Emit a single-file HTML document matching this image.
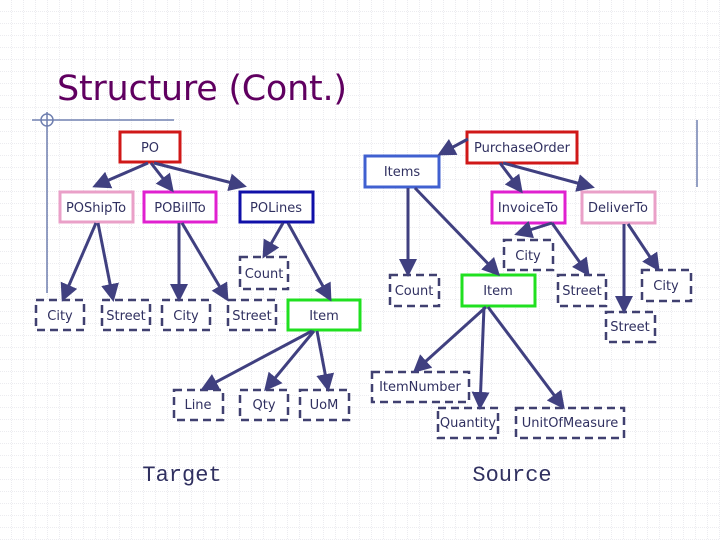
<!DOCTYPE html>
<html><head><meta charset="utf-8"><style>
body{margin:0;background:#fff}
svg{display:block}
text{font-family:"DejaVu Sans","Liberation Sans",sans-serif;font-size:13px;fill:#303060}
</style></head><body>
<svg width="720" height="540" viewBox="0 0 720 540" xmlns="http://www.w3.org/2000/svg">
<defs>
<pattern id="g" width="12" height="12" patternUnits="userSpaceOnUse">
<path d="M12 0V12M0 12H12" stroke="#d8d8e0" stroke-width="1" stroke-dasharray="1,1" fill="none"/>
</pattern>
<marker id="a" markerWidth="6" markerHeight="6" refX="5" refY="3" orient="auto" markerUnits="strokeWidth">
<path d="M0,0L6,3L0,6z" fill="#404080"/>
</marker>
</defs>
<rect width="720" height="540" fill="url(#g)"/>
<text x="57" y="100" textLength="290" style="font-size:35px;fill:#600060;font-family:'DejaVu Sans',sans-serif">Structure (Cont.)</text>
<g stroke="#7080b0" stroke-width="1.5" fill="none">
<path d="M32 120H174M47 112V293M697 120V187"/>
<circle cx="47" cy="120" r="6"/>
</g>
<g stroke-width="3" fill="#fff">
<rect x="120" y="132" width="60" height="30" stroke="#d01818"/>
<rect x="60" y="192" width="73" height="30" stroke="#eaa0c8"/>
<rect x="144" y="192" width="72" height="30" stroke="#e020d0"/>
<rect x="240" y="192" width="73" height="30" stroke="#1010a8"/>
<rect x="288" y="300" width="72" height="30" stroke="#20e020"/>
<rect x="467" y="132" width="110" height="31" stroke="#d01818"/>
<rect x="365" y="156" width="74" height="31" stroke="#4060d0"/>
<rect x="492" y="192" width="73" height="31" stroke="#e020d0"/>
<rect x="582" y="192" width="73" height="31" stroke="#eaa0c8"/>
<rect x="462" y="275" width="73" height="31" stroke="#20e020"/>
</g>
<g stroke="#404070" stroke-width="2.5" fill="#fff" stroke-dasharray="8,5">
<rect x="240" y="257" width="48" height="32"/>
<rect x="36" y="300" width="48" height="30"/>
<rect x="102" y="300" width="48" height="30"/>
<rect x="162" y="300" width="48" height="30"/>
<rect x="228" y="300" width="48" height="30"/>
<rect x="504" y="240" width="49" height="30"/>
<rect x="390" y="275" width="49" height="31"/>
<rect x="558" y="275" width="48" height="31"/>
<rect x="642" y="270" width="49" height="31"/>
<rect x="606" y="312" width="49" height="30"/>
<rect x="174" y="390" width="49" height="30"/>
<rect x="240" y="390" width="48" height="30"/>
<rect x="300" y="390" width="49" height="30"/>
<rect x="372" y="372" width="97" height="30"/>
<rect x="438" y="408" width="60" height="30"/>
<rect x="516" y="408" width="108" height="30"/>
</g>
<g stroke="#404080" stroke-width="3" fill="none" marker-end="url(#a)">
<path d="M148 163L95 186"/><path d="M151 163L172 190"/><path d="M154 163L244 186"/>
<path d="M96 223L63 299"/><path d="M98 223L113 299"/>
<path d="M179 223L179 299"/><path d="M182 223L227 299"/>
<path d="M283 223L264 256"/><path d="M288 223L330 299"/>
<path d="M312 331L203 389"/><path d="M314 331L266 389"/><path d="M317 331L328 389"/>
<path d="M468 139L440 154"/><path d="M500 163L521 191"/><path d="M503 163L592 187"/>
<path d="M408 188L408 274"/><path d="M415 188L498 274"/>
<path d="M552 223L517 234"/><path d="M552 223L588 274"/>
<path d="M624 224L624 311"/><path d="M628 224L658 269"/>
<path d="M486 307L415 371"/><path d="M484 307L480 407"/><path d="M488 307L563 407"/>
</g>
<g text-anchor="middle">
<text x="150" y="152">PO</text>
<text x="96" y="212">POShipTo</text>
<text x="180" y="212">POBillTo</text>
<text x="276" y="212">POLines</text>
<text x="264" y="278">Count</text>
<text x="60" y="320">City</text>
<text x="126" y="320">Street</text>
<text x="186" y="320">City</text>
<text x="252" y="320">Street</text>
<text x="324" y="320">Item</text>
<text x="522" y="152">PurchaseOrder</text>
<text x="402" y="176">Items</text>
<text x="528" y="212">InvoiceTo</text>
<text x="618" y="212">DeliverTo</text>
<text x="528" y="260">City</text>
<text x="414" y="295">Count</text>
<text x="498" y="295">Item</text>
<text x="582" y="295">Street</text>
<text x="666" y="290">City</text>
<text x="630" y="331">Street</text>
<text x="198" y="409">Line</text>
<text x="264" y="409">Qty</text>
<text x="324" y="409">UoM</text>
<text x="420" y="391">ItemNumber</text>
<text x="468" y="427">Quantity</text>
<text x="570" y="427">UnitOfMeasure</text>
<text x="182" y="481" style="font-family:'Liberation Mono',monospace;font-size:22px">Target</text>
<text x="512" y="481" style="font-family:'Liberation Mono',monospace;font-size:22px">Source</text>
</g>
</svg>
</body></html>
